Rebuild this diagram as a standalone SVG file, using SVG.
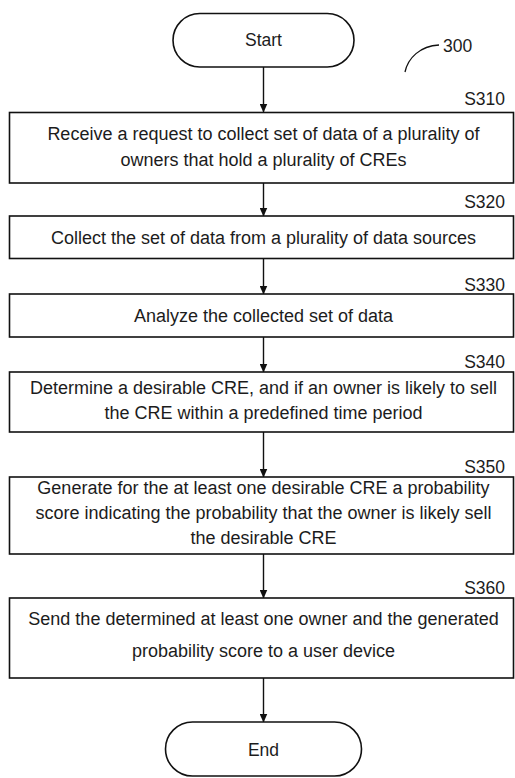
<svg xmlns="http://www.w3.org/2000/svg" width="515" height="778" viewBox="0 0 515 778">
  <defs>
    <marker id="arrow" markerWidth="9" markerHeight="8" refX="8.5" refY="4" orient="auto" markerUnits="userSpaceOnUse">
      <path d="M0,0 L9,4 L0,8 Z" fill="#111"/>
    </marker>
  </defs>
  <style>
    text { font-family: "Liberation Sans", Arial, sans-serif; font-size: 18px; fill: #1c1c1c; }
    .mid { text-anchor: middle; }
    .ref { text-anchor: end; font-size: 17.5px; }
    .term { font-size: 17.5px; }
    .box { fill: #fff; stroke: #111; stroke-width: 1.6; }
    .edge { fill: none; stroke: #111; stroke-width: 1.4; marker-end: url(#arrow); }
  </style>
  <rect width="515" height="778" fill="#fff"/>

  <!-- figure reference numeral -->
  <g id="fig-ref">
    <path d="M405,72 C408,58 420,46 439,45" fill="none" stroke="#111" stroke-width="1.3"/>
    <text class="term" x="443" y="52">300</text>
  </g>

  <!-- connectors -->
  <g id="connectors">
    <line class="edge" x1="263.5" y1="67" x2="263.5" y2="112"/>
    <line class="edge" x1="263.5" y1="183" x2="263.5" y2="216"/>
    <line class="edge" x1="263.5" y1="258" x2="263.5" y2="294"/>
    <line class="edge" x1="263.5" y1="337" x2="263.5" y2="372"/>
    <line class="edge" x1="263.5" y1="432" x2="263.5" y2="477"/>
    <line class="edge" x1="263.5" y1="554" x2="263.5" y2="598"/>
    <line class="edge" x1="263.5" y1="678" x2="263.5" y2="722"/>
  </g>

  <g id="start">
    <rect class="box" x="173" y="13.5" width="181" height="53.5" rx="26.75"/>
    <text class="mid term" x="263.5" y="45.5">Start</text>
  </g>

  <g id="s310">
    <rect class="box" x="9.5" y="112.5" width="504" height="70.5"/>
    <text class="ref" x="505" y="105">S310</text>
    <text class="mid" x="263.5" y="140">Receive a request to collect set of data of a plurality of</text>
    <text class="mid" x="263.5" y="166">owners that hold a plurality of CREs</text>
  </g>

  <g id="s320">
    <rect class="box" x="9.5" y="216" width="504" height="42.5"/>
    <text class="ref" x="505" y="208">S320</text>
    <text class="mid" x="263.5" y="244">Collect the set of data from a plurality of data sources</text>
  </g>

  <g id="s330">
    <rect class="box" x="9.5" y="294" width="504" height="43"/>
    <text class="ref" x="505" y="291">S330</text>
    <text class="mid" x="263.5" y="322">Analyze the collected set of data</text>
  </g>

  <g id="s340">
    <rect class="box" x="9.5" y="372" width="504" height="60"/>
    <text class="ref" x="505" y="368">S340</text>
    <text class="mid" x="263.5" y="394">Determine a desirable CRE, and if an owner is likely to sell</text>
    <text class="mid" x="263.5" y="419">the CRE within a predefined time period</text>
  </g>

  <g id="s350">
    <rect class="box" x="9.5" y="477" width="504" height="77"/>
    <text class="ref" x="505" y="473">S350</text>
    <text class="mid" x="263.5" y="494">Generate for the at least one desirable CRE a probability</text>
    <text class="mid" x="263.5" y="519">score indicating the probability that the owner is likely sell</text>
    <text class="mid" x="263.5" y="544">the desirable CRE</text>
  </g>

  <g id="s360">
    <rect class="box" x="9.5" y="598" width="504" height="80"/>
    <text class="ref" x="505" y="594">S360</text>
    <text class="mid" x="263.5" y="625">Send the determined at least one owner and the generated</text>
    <text class="mid" x="263.5" y="657">probability score to a user device</text>
  </g>

  <g id="end">
    <rect class="box" x="165.5" y="722" width="196" height="54" rx="27"/>
    <text class="mid term" x="263.5" y="756">End</text>
  </g>
</svg>
